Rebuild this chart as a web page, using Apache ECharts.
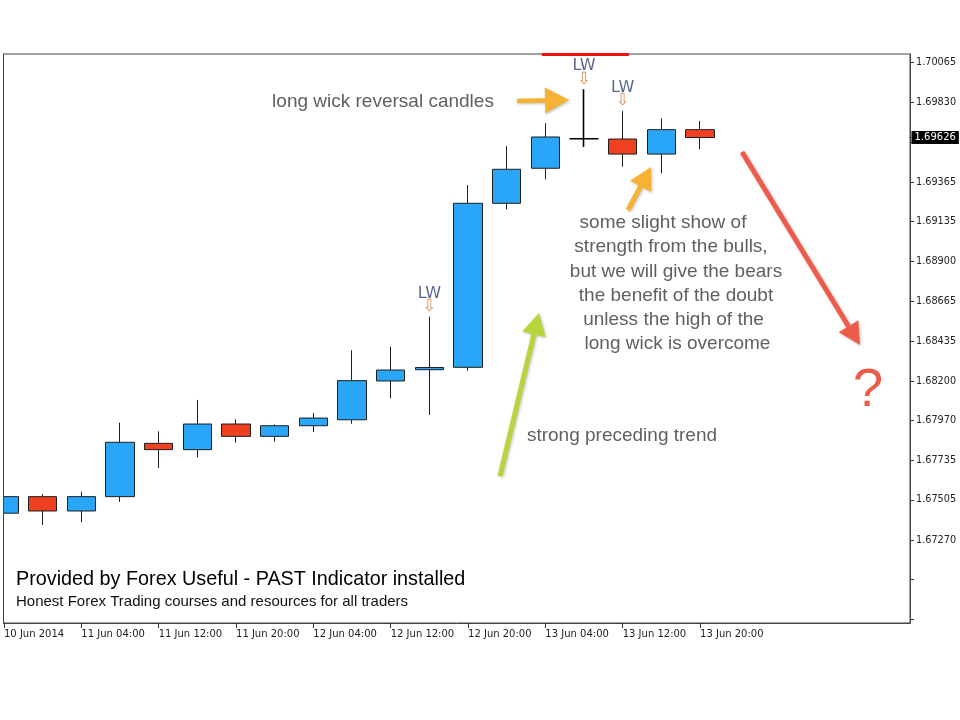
<!DOCTYPE html>
<html><head><meta charset="utf-8">
<script src="https://cdn.jsdelivr.net/npm/echarts@6/dist/echarts.min.js"></script>
<style>html,body{margin:0;padding:0;background:#fff}#c{width:960px;height:720px}</style>
</head><body><div id="c"></div>
<script>
// ---- data ----
const times = ['10 Jun 20:00','11 Jun 00:00','11 Jun 04:00','11 Jun 08:00','11 Jun 12:00','11 Jun 16:00','11 Jun 20:00',
  '12 Jun 00:00','12 Jun 04:00','12 Jun 08:00','12 Jun 12:00','12 Jun 16:00','12 Jun 20:00',
  '13 Jun 00:00','13 Jun 04:00','13 Jun 08:00','13 Jun 12:00','13 Jun 16:00','13 Jun 20:00'];
const openP  = [1.67427,1.67524,1.67440,1.67524,1.67836,1.67799,1.67949,1.67877,1.67939,1.67974,1.68201,1.68267,1.68281,1.69241,1.69446,1.69619,1.69617,1.69529,1.69672];
const closeP = [1.67524,1.67440,1.67524,1.67842,1.67799,1.67949,1.67877,1.67939,1.67984,1.68203,1.68265,1.68280,1.69241,1.69440,1.69629,1.69619,1.69529,1.69672,1.69626];
const lowP   = [1.67420,1.67358,1.67374,1.67493,1.67692,1.67754,1.67840,1.67846,1.67902,1.67951,1.68100,1.68002,1.68261,1.69206,1.69381,1.69570,1.69455,1.69416,1.69557];
const highP  = [1.67567,1.67539,1.67553,1.67957,1.67906,1.68090,1.67977,1.67947,1.68014,1.68381,1.68402,1.68577,1.69348,1.69576,1.69709,1.69908,1.69781,1.69738,1.69723];
const xTickIndex  = [0,2,4,6,8,10,12,14,16,18];
const xTickLabels = ['10 Jun 2014','11 Jun 04:00','11 Jun 12:00','11 Jun 20:00','12 Jun 04:00','12 Jun 12:00','12 Jun 20:00','13 Jun 04:00','13 Jun 12:00','13 Jun 20:00'];
const yTickLabels = [1.70065,1.69830,1.69600,1.69365,1.69135,1.68900,1.68665,1.68435,1.68200,1.67970,1.67735,1.67505,1.67270];
const yTickMarks  = yTickLabels.concat([1.67040,1.66805]);
const lastPrice = 1.69626;
const lwIndex = [11,15,16];
const topLineRange = [13.91,16.16];

// ---- axis ranges ----
const X_MIN = -0.026, X_MAX = 23.43;
const Y_MIN = 1.667844, Y_MAX = 1.701148;

const BULL = '#29a6f7', BEAR = '#f04022', EDGE = '#1e1e1e';
const AXF = 'DejaVu Sans';

const candleData = times.map((t,i) => {
  const item = {value:[i, openP[i], closeP[i], lowP[i], highP[i]]};
  if (openP[i] === closeP[i]) item.itemStyle = {color:'#000', color0:'#000', borderColor:'#000', borderColor0:'#000', borderColorDoji:'#000', borderWidth:1.6};
  return item;
});

function arrow(tail, tip, sw, hl, hw, color){
  const dx = tip[0]-tail[0], dy = tip[1]-tail[1], L = Math.hypot(dx,dy);
  const ux = dx/L, uy = dy/L, nx = -uy, ny = ux;
  const bx = tip[0]-ux*hl, by = tip[1]-uy*hl;
  const pts = [
    [tail[0]+nx*sw/2, tail[1]+ny*sw/2],
    [bx+nx*sw/2, by+ny*sw/2],
    [bx+nx*hw/2, by+ny*hw/2],
    tip,
    [bx-nx*hw/2, by-ny*hw/2],
    [bx-nx*sw/2, by-ny*sw/2],
    [tail[0]-nx*sw/2, tail[1]-ny*sw/2]
  ];
  return {type:'polygon', z:50, shape:{points:pts},
    style:{fill:color, shadowBlur:3, shadowColor:'rgba(0,0,0,0.25)', shadowOffsetX:1, shadowOffsetY:1}};
}
function txt(s, x, y, font, fill, align){
  return {type:'text', z:50, x:x, y:y, style:{text:s, font:font, fill:fill,
    textAlign:align||'center', align:align||'center', textVerticalAlign:'middle', verticalAlign:'middle'}};
}
const NOTE = '19px "Liberation Sans", Arial, sans-serif';
const NOTEC = '#606060';

const chart = echarts.init(document.getElementById('c'), null, {renderer:'canvas'});
chart.setOption({
  animation:false,
  backgroundColor:'#fff',
  grid:{left:3, right:50, top:54, bottom:97, show:true, borderColor:'#444', borderWidth:1, backgroundColor:'transparent'},
  xAxis:{
    type:'value', min:X_MIN, max:X_MAX,
    splitLine:{show:false},
    axisLine:{show:true, onZero:false, lineStyle:{color:'#444', width:1}},
    axisTick:{show:true, customValues:xTickIndex, length:5, lineStyle:{color:'#333'}},
    axisLabel:{show:true, customValues:xTickIndex, formatter:(v)=>xTickLabels[xTickIndex.indexOf(v)],
      align:'left', margin:6, fontFamily:AXF, fontSize:10, color:'#222'}
  },
  yAxis:{
    type:'value', position:'right', min:Y_MIN, max:Y_MAX,
    splitLine:{show:false},
    axisLine:{show:true, onZero:false, lineStyle:{color:'#444', width:1}},
    axisTick:{show:true, customValues:yTickMarks, length:4, lineStyle:{color:'#333'}},
    axisLabel:{show:true, customValues:yTickLabels, formatter:(v)=>v.toFixed(5),
      margin:6, fontFamily:AXF, fontSize:9.7, color:'#222'}
  },
  series:[
    {
      type:'candlestick',
      data:candleData,
      encode:{x:0, y:[1,2,3,4]},
      barWidth:29,
      itemStyle:{color:BULL, color0:BEAR, borderColor:EDGE, borderColor0:EDGE, borderColorDoji:'#000', borderWidth:1},
      emphasis:{disabled:true},
      markLine:{
        symbol:'none', silent:true, animation:false,
        data:[
          [{coord:[topLineRange[0], Y_MAX], lineStyle:{color:'#f01010', width:3, type:'solid'}, label:{show:false}},
           {coord:[topLineRange[1], Y_MAX]}]
        ]
      }
    },
    {
      type:'scatter',
      data:lwIndex.map(i=>[i, highP[i]]),
      symbolSize:1,
      itemStyle:{color:'rgba(0,0,0,0)'},
      silent:true,
      label:{show:true, position:'top', distance:3,
        formatter:'{a|LW}\n{b|⇩}',
        rich:{
          a:{fontFamily:AXF, fontSize:16, color:'#2f4275', lineHeight:13, align:'center'},
          b:{fontFamily:AXF, fontSize:17, color:'#d9792a', lineHeight:13, align:'center'}
        }}
    },
    {
      type:'scatter',
      data:[[X_MAX, lastPrice]],
      symbolSize:1,
      clip:false,
      itemStyle:{color:'#000', opacity:1},
      silent:true,
      z:20,
      emphasis:{disabled:true},
      label:{show:true, position:'right', distance:1, opacity:1, formatter:()=>lastPrice.toFixed(5),
        backgroundColor:'#000', color:'#fff', padding:[2,3,1,3], fontFamily:AXF, fontSize:10,
        textBorderWidth:0}
    }
  ],
  graphic:{elements:[
    {type:'rect', z:60, shape:{x:0, y:40, width:3, height:600}, style:{fill:'#fff'}},
    {type:'line', z:61, shape:{x1:3.5, y1:54, x2:3.5, y2:623}, style:{stroke:'#444', lineWidth:1}},
    txt('long wick reversal candles', 383, 102, NOTE, NOTEC),
    txt('strong preceding trend', 622, 436, NOTE, NOTEC),
    txt('some slight show of', 663, 223, NOTE, NOTEC),
    txt('strength from the bulls,', 671, 247, NOTE, NOTEC),
    txt('but we will give the bears', 676, 271.5, NOTE, NOTEC),
    txt('the benefit of the doubt', 676, 295.5, NOTE, NOTEC),
    txt('unless the high of the', 673.5, 320, NOTE, NOTEC),
    txt('long wick is overcome', 677.5, 343.5, NOTE, NOTEC),
    txt('?', 868, 391, '54px "Liberation Sans", Arial, sans-serif', '#ee5b4b'),
    txt('Provided by Forex Useful - PAST Indicator installed', 16, 580, '19.8px "Liberation Sans", Arial, sans-serif', '#000', 'left'),
    txt('Honest Forex Trading courses and resources for all traders', 16, 602, '15px "Liberation Sans", Arial, sans-serif', '#111', 'left'),
    arrow([517,101],[569,100], 4.5, 24, 26, '#f7b234'),
    arrow([628,210],[651,167], 5, 22, 24, '#f7b234'),
    arrow([500,476],[539,313], 5, 22, 24, '#b8d63c'),
    arrow([742,152],[860,345], 5, 22, 23, '#ee5b4b')
  ]}
});
</script></body></html>
